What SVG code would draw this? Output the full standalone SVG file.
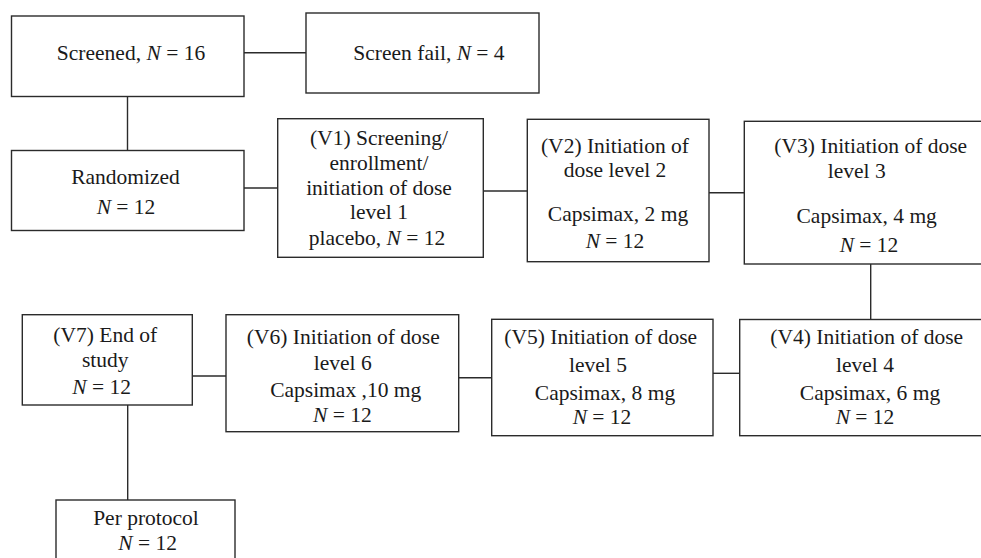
<svg xmlns="http://www.w3.org/2000/svg" width="981" height="558" viewBox="0 0 981 558">
<style>
.box{fill:#fff;stroke:#2b2b2b;stroke-width:1.4}
.ln{stroke:#2b2b2b;stroke-width:1.4;fill:none}
text{font-family:"Liberation Serif","Times New Roman",serif;font-size:21.5px;fill:#1a1a1a;text-anchor:middle}
.i{font-style:italic}
</style>
<rect width="981" height="558" fill="#fff"/>
<g id="connectors">
<line class="ln" x1="244" y1="52.7" x2="306" y2="52.7"/>
<line class="ln" x1="127.5" y1="96.5" x2="127.5" y2="150.5"/>
<line class="ln" x1="244" y1="188" x2="277.7" y2="188"/>
<line class="ln" x1="483.3" y1="191" x2="527.3" y2="191"/>
<line class="ln" x1="709" y1="192.7" x2="744.3" y2="192.7"/>
<line class="ln" x1="870.7" y1="264" x2="870.7" y2="319.5"/>
<line class="ln" x1="713" y1="373.3" x2="739.7" y2="373.3"/>
<line class="ln" x1="458.7" y1="377.7" x2="491.7" y2="377.7"/>
<line class="ln" x1="192.3" y1="376" x2="226" y2="376"/>
<line class="ln" x1="127.7" y1="405" x2="127.7" y2="500"/>
</g>
<g id="screened">
<rect class="box" x="11.5" y="16" width="232.5" height="80.5"/>
<text x="131" y="59.5">Screened, <tspan class="i">N</tspan> = 16</text>
</g>
<g id="screenfail">
<rect class="box" x="306" y="13" width="233" height="80"/>
<text x="429" y="60">Screen fail, <tspan class="i">N</tspan> = 4</text>
</g>
<g id="randomized">
<rect class="box" x="11.5" y="150.5" width="232.5" height="80"/>
<text x="125.5" y="184">Randomized</text>
<text x="126" y="214"><tspan class="i">N</tspan> = 12</text>
</g>
<g id="v1">
<rect class="box" x="277.7" y="118.7" width="205.6" height="138.6"/>
<text x="379" y="145">(V1) Screening/</text>
<text x="379" y="169.5">enrollment/</text>
<text x="379" y="194.5">initiation of dose</text>
<text x="379" y="219">level 1</text>
<text x="377" y="244.5">placebo, <tspan class="i">N</tspan> = 12</text>
</g>
<g id="v2">
<rect class="box" x="527.3" y="119.3" width="181.7" height="142.4"/>
<text x="615" y="152.7">(V2) Initiation of</text>
<text x="615" y="176.7">dose level 2</text>
<text x="618" y="221">Capsimax, 2 mg</text>
<text x="615" y="248.3"><tspan class="i">N</tspan> = 12</text>
</g>
<g id="v3">
<rect class="box" x="744.3" y="121.3" width="245" height="142.7"/>
<text x="870.7" y="153.3">(V3) Initiation of dose</text>
<text x="856.7" y="178.3">level 3</text>
<text x="866.7" y="223.3">Capsimax, 4 mg</text>
<text x="869" y="251.7"><tspan class="i">N</tspan> = 12</text>
</g>
<g id="v4">
<rect class="box" x="739.7" y="319.5" width="250" height="116.2"/>
<text x="866.7" y="344.3">(V4) Initiation of dose</text>
<text x="865" y="371.7">level 4</text>
<text x="870" y="400">Capsimax, 6 mg</text>
<text x="865" y="424"><tspan class="i">N</tspan> = 12</text>
</g>
<g id="v5">
<rect class="box" x="491.7" y="319.3" width="221.3" height="116.4"/>
<text x="600.7" y="344.3">(V5) Initiation of dose</text>
<text x="598" y="371.7">level 5</text>
<text x="605" y="400">Capsimax, 8 mg</text>
<text x="602" y="424"><tspan class="i">N</tspan> = 12</text>
</g>
<g id="v6">
<rect class="box" x="226" y="314.7" width="232.7" height="117"/>
<text x="343.3" y="344.3">(V6) Initiation of dose</text>
<text x="342.7" y="370">level 6</text>
<text x="345.7" y="397.3">Capsimax ,10 mg</text>
<text x="342.3" y="421.7"><tspan class="i">N</tspan> = 12</text>
</g>
<g id="v7">
<rect class="box" x="22.3" y="314.7" width="170" height="90.3"/>
<text x="105.3" y="341.7">(V7) End of</text>
<text x="105.3" y="367.3">study</text>
<text x="101.7" y="394"><tspan class="i">N</tspan> = 12</text>
</g>
<g id="perprotocol">
<rect class="box" x="56" y="500" width="179" height="70"/>
<text x="146" y="525">Per protocol</text>
<text x="147.7" y="550"><tspan class="i">N</tspan> = 12</text>
</g>
</svg>
